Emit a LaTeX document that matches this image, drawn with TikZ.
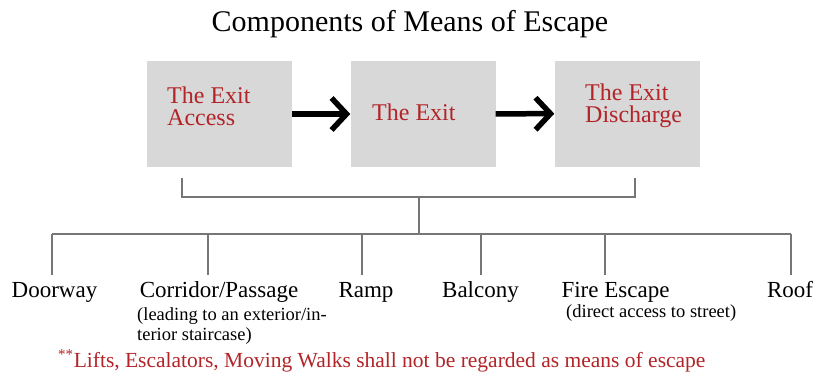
\documentclass[tikz,border=0pt]{standalone}
\usepackage{fontspec}
\setmainfont{Liberation Serif}
\usetikzlibrary{arrows.meta}

\definecolor{exitred}{RGB}{178,36,40}
\definecolor{boxgrey}{RGB}{216,216,216}
\definecolor{linegrey}{RGB}{118,118,118}

\tikzset{
  exitbox/.style={fill=boxgrey, minimum width=145pt, minimum height=106pt, inner sep=0pt},
  exittext/.style={text=exitred, font=\fontsize{24}{22}\selectfont, align=left, inner sep=0pt},
  treeline/.style={draw=linegrey, line width=2pt},
  item/.style={font=\fontsize{23}{26}\selectfont, inner sep=0pt},
  subitem/.style={font=\fontsize{18.5}{20}\selectfont, align=left, inner sep=0pt},
  flow/.style={line width=5.5pt, -{Straight Barb[length=15pt,width=32pt]}}
}

\begin{document}
\begin{tikzpicture}[x=1pt, y=-1pt]
    \useasboundingbox (0,0) rectangle (820,378);
    \node[font=\fontsize{30}{34}\selectfont, anchor=base, inner sep=0pt] (title) at (410,31) {Components of Means of Escape};
    % the three parts
    \node[exitbox] (access) at (219.5,114) {};
    \node[exitbox] (exit) at (423,114) {};
    \node[exitbox] (discharge) at (627,113.5) {};
    \node[exittext, anchor=base west] (accesstext) at (167,125) {The Exit\\Access};
    \node[exittext, anchor=base west] (exittext) at (372,120) {The Exit};
    \node[exittext, anchor=base west] (dischargetext) at (585,122) {The Exit\\Discharge};
    \draw[flow] (access) -- (exit);
    \draw[flow] (exit) -- (discharge);
    % bracket and branches
    \coordinate (bracketleft) at (182,178);
    \coordinate (bracketright) at (635,178);
    \coordinate (bracketmid) at (419,197);
    \coordinate (barmid) at (419,234);
    \draw[treeline] (bracketleft) |- (bracketmid) -| (bracketright);
    \draw[treeline] (bracketmid) -- (barmid);
    \foreach \x/\lx/\name/\txt in {52/54.5/doorway/Doorway, 208/219/corridor/{Corridor/Passage}, 362/366/ramp/Ramp, 481/480.5/balcony/Balcony, 605/615.5/fireescape/Fire Escape, 791/790/roof/Roof} {
      \coordinate (top-\name) at (\x,234);
      \coordinate (end-\name) at (\x,275);
      \draw[treeline] (top-\name) -- (end-\name);
      \node[item, anchor=base] (\name) at (\lx,297) {\txt};
    }
    \draw[treeline] (top-doorway) -- (top-roof);
    \node[subitem, anchor=base west] (corridornote) at (137,340) {(leading to an exterior/in-\\terior staircase)};
    \node[subitem, anchor=base west] (fireescapenote) at (566,317) {(direct access to street)};
    \node[text=exitred, font=\fontsize{21.5}{24}\selectfont, anchor=base west, inner sep=0pt] (note) at (58,367) {\textsuperscript{**}Lifts, Escalators, Moving Walks shall not be regarded as means of escape};
\end{tikzpicture}
\end{document}
